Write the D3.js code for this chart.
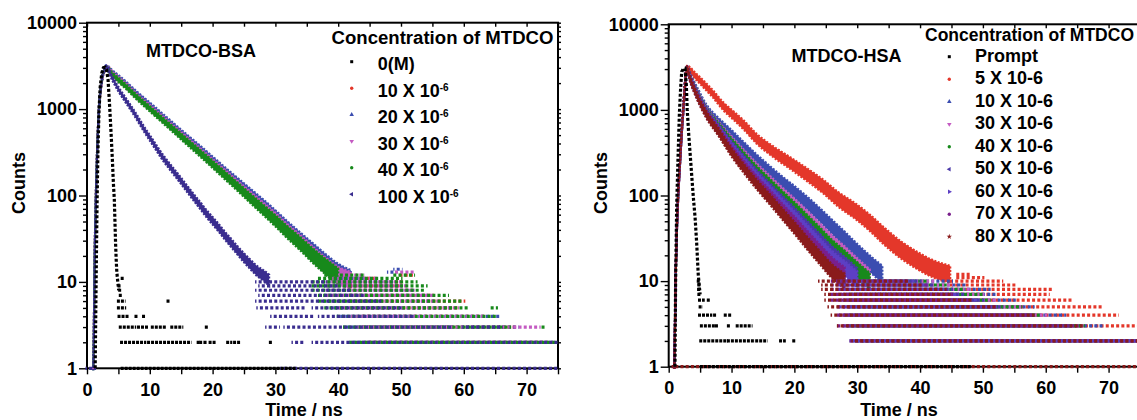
<!DOCTYPE html>
<html>
<head>
<meta charset="utf-8">
<script src="https://cdn.jsdelivr.net/npm/d3@7"></script>
<style>
  body { margin: 0; background: #fff; }
  svg text { font-family: "Liberation Sans", Arial, Helvetica, sans-serif; font-weight: bold; fill: #000; }
  .tick line { stroke: #000; stroke-width: 1.4; }
  .tick text { font-size: 18px; }
</style>
</head>
<body>
<div id="chart"></div>
<script>
/* Fluorescence decay data (time in ns, counts) */

const xTicks = [0, 10, 20, 30, 40, 50, 60, 70];
const xMinor = [5, 15, 25, 35, 45, 55, 65, 75];
const yTicks = [1, 10, 100, 1000, 10000];

// ---- MTDCO-BSA (left) ----
const bsaRise = [[1.0,1],[1.1,3],[1.2,15],[1.35,60],[1.6,300],[1.9,1000],[2.3,2000],[2.7,2800]];
const bsaPrompt = [[1.3,1],[1.45,10],[1.6,80],[1.75,350],[1.9,900],[2.1,1800],[2.35,2600],[2.6,3000],[2.9,3050],[3.1,2900],[3.35,2200],[3.6,1100],[3.85,500],[4.05,250],[4.2,140],[4.35,90],[4.45,50],[4.55,28],[4.65,18],[4.75,13],[4.9,10],[5.05,8]];
const bsa10 = [[3.1,3000],[4,2600],[6,1950],[8,1420],[10,1060],[12,790],[14,590],[16,440],[18,330],[20,245],[22,182],[24,136],[26,101],[28,75],[30,55],[32,40],[34,29.5],[36,21.5],[38,16],[40,12.5],[42,10.5]];
const bsa20 = [[3.1,3050],[4,2680],[6,2020],[8,1480],[10,1110],[12,825],[14,615],[16,460],[18,345],[20,256],[22,190],[24,142],[26,106],[28,79],[30,58],[32,42],[34,31],[36,23],[38,17],[40,13],[42,11]];
const bsa30 = [[3.1,3000],[4,2580],[6,1930],[8,1400],[10,1045],[12,778],[14,580],[16,432],[18,323],[20,240],[22,178],[24,132],[26,98],[28,73],[30,54],[32,39],[34,29],[36,21],[38,15.5],[40,12],[42,10.5]];
const bsa40 = [[3.1,2950],[4,2530],[6,1880],[8,1360],[10,1010],[12,750],[14,560],[16,415],[18,310],[20,230],[22,170],[24,126],[26,93],[28,69],[30,51],[32,37],[34,27.5],[36,20],[38,15],[40,11.5]];
const bsa100 = [[3.1,3000],[4,2300],[5,1700],[6,1320],[7,1030],[8,790],[9,600],[10,465],[11,360],[12,280],[13,225],[14,182],[15,147],[16,118],[17,95],[18,77],[19,62],[20,51],[21,42],[22,34],[23,28],[24,23],[25,19],[26,16],[27,13.5],[28,12],[29,10.5]];
const bsaSpread = [[0,1.05],[8,1.07],[16,1.09],[24,1.12],[32,1.18],[40,1.25]];

// quantised tail rows: [count, from ns, to ns]
const bsaPromptRows = [[11,5.6,5.7],[9,5.1,5.2],[8,5.2,5.3],[7,5.3,5.4],[6,5.0,5.9],[6,12.9,13.0],[5,5.0,6.0],[4,5.1,6.4],[4,7.8,7.9],[4,9.0,9.1],[3,5.3,7.6],[3,8.2,9.5],[3,10.4,12.4],[3,13.5,15.1],[3,19.0,19.1],[2,5.5,9.2],[2,9.8,16.4],[2,17.7,17.8],[2,18.1,18.3],[2,18.8,18.9],[2,19.6,20.4],[2,22.4,22.9],[2,23.5,24.3],[2,29.2,29.3],[1,5.6,33]];
const bsa10Rows = [[2,45,73],[3,44,68],[4,44,63],[5,43,59],[6,42,60],[7,42,55],[8,41,52],[9,42,50],[10,41,50],[11,44,46],[12,50,52]];
const bsa20Rows = [[2,42,74],[3,41,68.5],[4,40,65.5],[5,39,58],[6,38,55],[7,38,54],[8,38,52],[9,38,50],[10,38,49],[11,40,44],[13,48,49],[14,49,50]];
const bsa30Rows = [[2,44,74],[3,43,72],[4,42,63],[5,40,59],[6,39,56],[7,38,55],[8,38,52],[9,38,51],[10,38,50],[11,39,46],[12,40,44],[13,49,52]];
const bsa40Rows = [[2,42,74.7],[3,41,67.3],[3,72.6,72.8],[4,40,65.2],[5,38,60.4],[5,64.5,65.2],[6,37,59.6],[7,37,57.4],[8,36,53.5],[9,36,54],[10,36,52.4],[11,37,50],[12,38,44],[12,49,52]];
const bsa100Rows = [[1,0,1.2],[1,31,75],[2,32.8,34.5],[2,36,75],[3,28.6,30.5],[3,31.5,58],[3,60,66],[4,29.4,36],[4,37,52],[5,27.2,34.5],[5,36,50],[6,27,47],[7,27.5,44],[8,27,42],[9,27.5,40],[10,27,38]];

const bsaLabels = ["0(M)", "10 X 10", "20 X 10", "30 X 10", "40 X 10", "100 X 10"];
const bsaExp = ["", "-6", "-6", "-6", "-6", "-6"];

// ---- MTDCO-HSA (right) ----
const hsaRise = [[0.9,1],[1.0,3],[1.1,10],[1.25,30],[1.45,80],[1.8,250],[2.1,600],[2.35,1100],[2.6,2000]];
const hsaPrompt = [[1.0,1],[1.1,10],[1.27,74],[1.5,300],[1.7,900],[1.9,1800],[2.07,2800],[2.35,3050],[2.6,3050],[2.8,2000],[2.95,1000],[3.2,500],[3.5,250],[3.75,140],[3.95,90],[4.2,55],[4.45,28],[4.7,12],[4.85,9],[5.0,7]];
const hsa5 = [[2.9,3060],[3.4,2900],[4,2600],[5,2200],[6,1850],[7,1550],[8.7,1100],[10,900],[12,660],[14,460],[16.5,330],[19.3,240],[22,175],[24.6,127],[27,90],[29.9,64],[32,48],[34.2,34],[37,23],[39.5,17.5],[42,14],[44.8,12]];
const hsa10 = [[2.9,3000],[3.5,2400],[4.5,1700],[6,1050],[8,720],[10,520],[12,370],[14,265],[16,195],[18,145],[20,110],[22,82],[24,60],[26,43],[28,31],[30,22],[32,16],[34,12]];
const hsa30 = [[2.9,3000],[3.5,2340],[4.5,1607],[6,986],[8,650],[10,439],[12,301],[14,209],[16,150],[18,108],[20,78.5],[22,56.4],[24,40.1],[26,28.3],[28,20.8],[30,15],[32,11]];
const hsa40 = [[2.9,3000],[3.5,2320],[4.5,1581],[6,968],[8,632],[10,418],[12,284],[14,195],[16,139],[18,99],[20,71.3],[22,50.6],[24,35.7],[26,25.1],[28,18.6],[30,13.5],[32,10]];
const hsa50 = [[2.9,3000],[3.5,2290],[4.5,1545],[6,944],[8,605],[10,388],[12,259],[14,177],[16,124],[18,87],[20,61.7],[22,43],[24,30.1],[26,21],[28,15.7],[30,11.5]];
const hsa60 = [[2.9,3000],[3.5,2270],[4.5,1521],[6,927],[8,589],[10,370],[12,245],[14,165],[16,115],[18,80],[20,56],[22,38.6],[24,26.8],[26,18.6],[28,14],[30,10.5]];
const hsa70 = [[2.9,3000],[3.5,2230],[4.5,1483],[6,904],[8,564],[10,344],[12,224],[14,149],[16,103],[18,70],[20,48.5],[22,32.9],[24,22.6],[26,15.6],[28,11.9]];
const hsa80 = [[2.9,3000],[3.5,2200],[4.5,1450],[6,880],[8,540],[10,320],[12,205],[14,135],[16,92],[18,62],[20,42],[22,28],[24,19],[26,13],[28,10]];
const hsaSpread = [[0,1.06],[6,1.1],[14,1.14],[24,1.2],[34,1.26]];

const hsaPromptRows = [[10,4.7,4.8],[9,4.8,4.9],[8,4.75,4.85],[7,4.8,4.9],[6,4.9,5.5],[6,6.3,6.4],[5,5.0,5.2],[4,4.9,6.7],[4,7.3,7.4],[4,9.0,9.1],[4,9.7,9.8],[3,5.2,7.2],[3,7.6,7.7],[3,9.5,9.6],[3,10.9,13.1],[2,5.1,9.2],[2,9.5,13.5],[2,14.0,15.5],[2,17.8,18.4],[2,19.9,20.0],[1,5.2,48]];
const hsa5Rows = [[2,38,75.5],[3,40,75.5],[4,42,71.4],[5,43,68.7],[6,44,64],[7,45,60.4],[8,45,61],[9,45,55],[10,45,53],[11,46,50],[12,46,48]];
const hsa10Rows = [[2,31,75.5],[3,31,69],[4,32,63],[5,32,58],[6,33,55],[7,33,52],[8,34,51],[9,34,47],[10,34,45]];
const hsa30Rows = [[2,30,75.5],[3,30,66],[4,30,60],[5,30,56],[6,30,52],[7,30,50],[8,30,48],[9,31,45],[10,31,42]];
const hsa40Rows = [[2,30,75.5],[3,29,66],[4,29,59],[5,29,56],[6,29,51],[7,29,50],[8,30,47],[9,30,44],[10,30,41]];
const hsa50Rows = [[2,29,75.5],[3,28,64],[4,28,58],[5,28,53],[6,28,50],[7,28,47],[8,28,45],[9,28,42],[10,28,40]];
const hsa60Rows = [[2,29,75.5],[3,28,64],[4,27,57],[5,27,52],[6,27,49],[7,27,46],[8,27,44],[9,27,41],[10,27,39]];
const hsa70Rows = [[2,29,75.5],[3,27,65],[4,27,58],[5,27,52],[6,26,48],[7,26,45],[8,26,43],[9,26,41],[10,26,38]];
const hsa80Rows = [[1,0.7,75.5],[2,29.3,75.5],[3,27,66],[4,26,58],[5,25.5,52],[6,25,48],[7,25,45],[8,24.5,44],[9,24.5,40],[10,24,38]];

const hsaLabels = ["Prompt", "5 X 10-6", "10 X 10-6", "30 X 10-6", "40 X 10-6", "50 X 10-6", "60 X 10-6", "70 X 10-6", "80 X 10-6"];

/* Styles */
const cRed = "#e4372a", cBlue = "#3b4db0", cMag = "#c45ac2", cGreen = "#17891b", cIndigo = "#3a2d8f";
const cIndigo2 = "#4a38a8", cViolet = "#5d3fc4", cPurple = "#7a1f8c", cDarkRed = "#8a1b1b";

const width = 1137, height = 420;
const svg = d3.select("#chart").append("svg")
  .attr("width", width).attr("height", height)
  .attr("viewBox", [0, 0, width, height]);

function drawPanel(p) {
  const x = d3.scaleLinear([0, 75], [p.left, p.right]);
  const y = d3.scaleLog([1, 10000], [p.bottom, p.top]);
  const yMinor = [];
  for (const d of [1, 10, 100, 1000]) for (let k = 2; k <= 9; k++) yMinor.push(d * k);
  const spread = d3.scaleLinear(p.spread.map(d => d[0]), p.spread.map(d => d[1])).clamp(true);

  const g = svg.append("g");

  // Axes
  g.append("g").attr("transform", `translate(0,${p.bottom})`)
    .call(d3.axisBottom(x).tickValues(xTicks.concat(xMinor)).tickSize(6).tickPadding(9)
      .tickFormat(d => xTicks.includes(d) ? d : ""))
    .call(a => a.select(".domain").remove());
  g.append("g").attr("transform", `translate(0,${p.top})`)
    .call(d3.axisTop(x).tickValues(xTicks.concat(xMinor)).tickSize(-4).tickFormat(""))
    .call(a => a.select(".domain").remove());
  g.append("g").attr("transform", `translate(${p.left},0)`)
    .call(d3.axisLeft(y).tickValues(yTicks).tickSize(8).tickPadding(2).tickFormat(d3.format("d")))
    .call(a => a.select(".domain").remove());
  g.append("g").attr("transform", `translate(${p.left},0)`)
    .call(d3.axisLeft(y).tickValues(yMinor).tickSize(4).tickFormat(""))
    .call(a => a.select(".domain").remove());
  g.append("g").attr("transform", `translate(${p.right},0)`)
    .call(d3.axisRight(y).tickValues(yTicks.concat(yMinor)).tickSize(3).tickFormat(""))
    .call(a => a.select(".domain").remove());

  g.append("rect")
    .attr("x", p.left).attr("y", p.top)
    .attr("width", p.right - p.left).attr("height", p.bottom - p.top)
    .attr("fill", "none").attr("stroke", "#000").attr("stroke-width", 2);

  // Data
  const clipId = "clip" + p.name;
  svg.append("clipPath").attr("id", clipId).append("rect")
    .attr("x", p.left - 4).attr("y", p.top).attr("width", p.right - p.left + 6).attr("height", p.bottom - p.top + 4);
  const dg = g.append("g").attr("clip-path", `url(#${clipId})`);

  const area = d3.area()
    .x(d => x(d[0]))
    .y0(d => y(d[1] / spread(d[0])))
    .y1(d => y(d[1] * spread(d[0])))
    .curve(d3.curveMonotoneX);

  p.series.forEach(s => {
    dg.append("path")
      .attr("d", area(p.rise.concat(s.data)))
      .attr("fill", s.color)
      .attr("stroke", s.color)
      .attr("stroke-width", 2.2)
      .attr("stroke-dasharray", "2 1.5");
  });
  p.series.forEach((s, i) => {
    dg.selectAll(null).data(s.rows).join("line")
      .attr("x1", d => x(d[1]) - 1.5).attr("x2", d => x(d[2]) + 1.5)
      .attr("y1", d => y(d[0])).attr("y2", d => y(d[0]))
      .attr("stroke", s.color).attr("stroke-width", 3.2)
      .attr("stroke-dasharray", "3 2.2").attr("stroke-dashoffset", i * 1.7);
  });

  // Prompt (instrument response)
  dg.append("path")
    .attr("d", d3.line().x(d => x(d[0])).y(d => y(d[1]))(p.prompt))
    .attr("fill", "none").attr("stroke", "#000").attr("stroke-width", 3.2)
    .attr("stroke-dasharray", "3 2");
  dg.selectAll(null).data(p.promptRows).join("line")
    .attr("x1", d => x(d[1]) - 1.5).attr("x2", d => x(d[2]) + 1.5)
    .attr("y1", d => y(d[0])).attr("y2", d => y(d[0]))
    .attr("stroke", "#000").attr("stroke-width", 3.2)
    .attr("stroke-dasharray", "3 1");

  // Labels
  g.append("text").attr("x", p.timeX).attr("y", 416)
    .attr("text-anchor", "middle").style("font-size", "18px").text("Time / ns");
  g.append("text").attr("transform", `translate(${p.left - 62},${p.countsY}) rotate(-90)`)
    .attr("text-anchor", "middle").style("font-size", "18px").text("Counts");
  g.append("text").attr("x", p.titleX).attr("y", p.titleY).style("font-size", "18px").text(p.title);

  // Legend
  g.append("text").attr("x", p.legX).attr("y", p.legY)
    .attr("textLength", p.legW).attr("lengthAdjust", "spacingAndGlyphs")
    .style("font-size", "18px").text("Concentration of MTDCO");
  p.labels.forEach((lab, i) => {
    const by = p.rowY + i * p.rowDy;
    const color = i === 0 ? "#000" : p.series[i - 1].color;
    g.append("path")
      .attr("d", d3.symbol(p.symTypes[i], 9)())
      .attr("transform", `translate(${p.symX},${by - p.symOff}) rotate(${p.symRot[i]})`)
      .attr("fill", color);
    const t = g.append("text").attr("x", p.textX).attr("y", by).style("font-size", "18px");
    t.append("tspan").text(lab);
    if (p.exp && p.exp[i]) t.append("tspan").attr("dy", -6).style("font-size", "10px").text(p.exp[i]);
  });
}

drawPanel({
  name: "bsa", left: 87, right: 558, top: 22.7, bottom: 368.3,
  spread: bsaSpread, rise: bsaRise, prompt: bsaPrompt, promptRows: bsaPromptRows,
  series: [
    {data: bsa10, rows: bsa10Rows, color: cRed},
    {data: bsa20, rows: bsa20Rows, color: cBlue},
    {data: bsa30, rows: bsa30Rows, color: cMag},
    {data: bsa40, rows: bsa40Rows, color: cGreen},
    {data: bsa100, rows: bsa100Rows, color: cIndigo}
  ],
  timeX: 304, countsY: 183, title: "MTDCO-BSA", titleX: 146, titleY: 56.5,
  legX: 331.5, legY: 43.5, legW: 222,
  labels: bsaLabels, exp: bsaExp, rowY: 70, rowDy: 26.5, symX: 351.7, symOff: 8.3, textX: 377.7,
  symTypes: [d3.symbolSquare, d3.symbolCircle, d3.symbolTriangle, d3.symbolTriangle, d3.symbolCircle, d3.symbolTriangle],
  symRot: [0, 0, 0, 180, 0, -90]
});

drawPanel({
  name: "hsa", left: 668.7, right: 1140, top: 24.3, bottom: 366.7,
  spread: hsaSpread, rise: hsaRise, prompt: hsaPrompt, promptRows: hsaPromptRows,
  series: [
    {data: hsa5, rows: hsa5Rows, color: cRed},
    {data: hsa10, rows: hsa10Rows, color: cBlue},
    {data: hsa30, rows: hsa30Rows, color: cMag},
    {data: hsa40, rows: hsa40Rows, color: cGreen},
    {data: hsa50, rows: hsa50Rows, color: cIndigo2},
    {data: hsa60, rows: hsa60Rows, color: cViolet},
    {data: hsa70, rows: hsa70Rows, color: cPurple},
    {data: hsa80, rows: hsa80Rows, color: cDarkRed}
  ],
  timeX: 899, countsY: 183, title: "MTDCO-HSA", titleX: 791.5, titleY: 62,
  legX: 925, legY: 40.7, legW: 209,
  labels: hsaLabels, exp: null, rowY: 61.7, rowDy: 22.5, symX: 949.3, symOff: 5, textX: 975,
  symTypes: [d3.symbolSquare, d3.symbolCircle, d3.symbolTriangle, d3.symbolTriangle, d3.symbolCircle, d3.symbolTriangle, d3.symbolTriangle, d3.symbolCircle, d3.symbolStar],
  symRot: [0, 0, 0, 180, 0, -90, 90, 0, 0]
});
</script>
</body>
</html>
